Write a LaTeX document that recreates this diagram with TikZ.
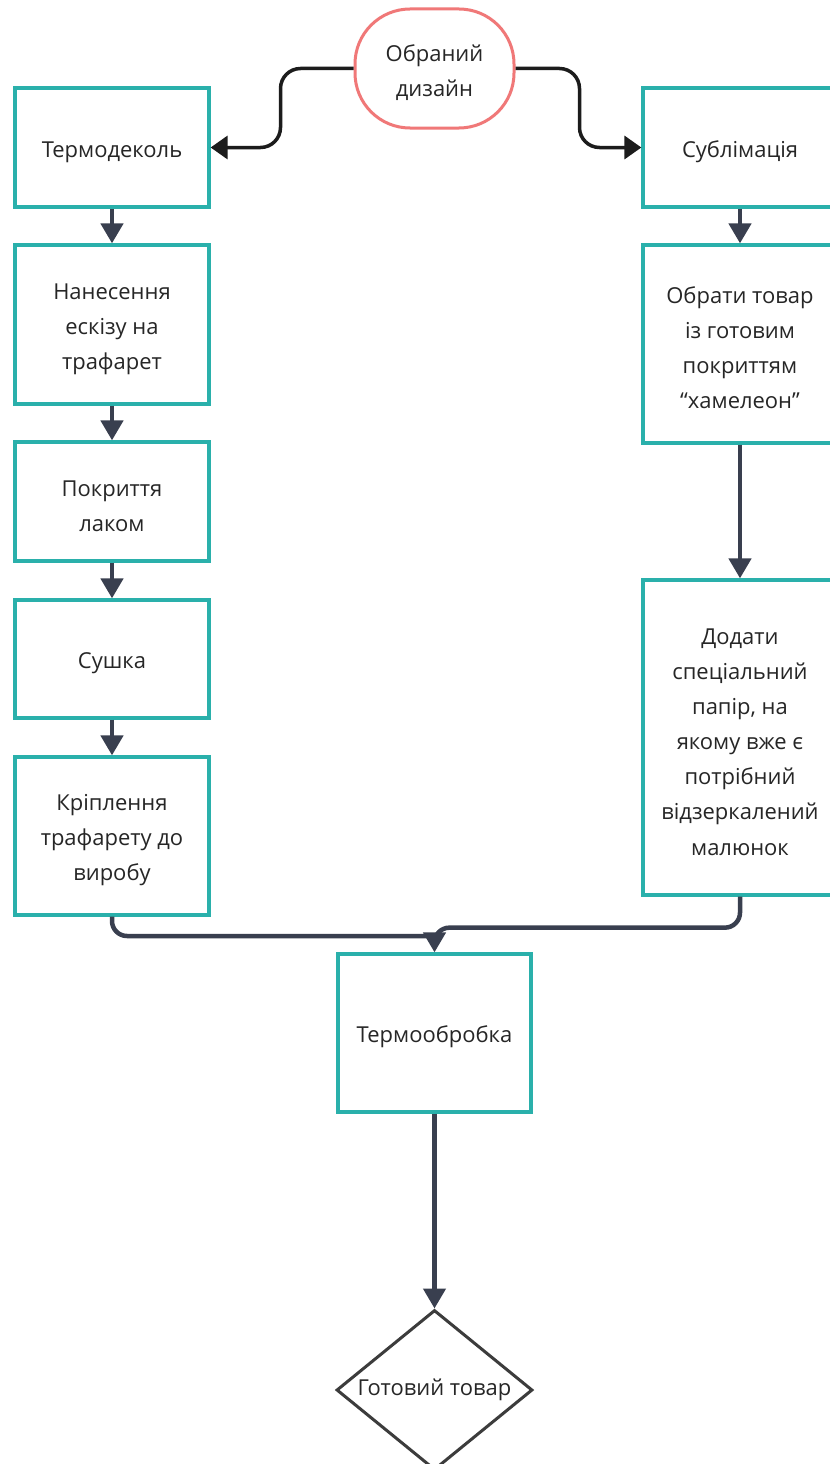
\documentclass[tikz,border=0pt]{standalone}
\usepackage{fontspec}
\setmainfont{Open Sans}
\usetikzlibrary{arrows.meta, shapes.geometric}
\definecolor{tealline}{HTML}{2AB0AB}
\definecolor{salmon}{HTML}{F07878}
\definecolor{slate}{HTML}{393F4F}
\definecolor{inkblk}{HTML}{1C1C1C}
\definecolor{txtgray}{HTML}{262626}
\definecolor{dmdgray}{HTML}{3C3C3C}
\newcommand{\tstrut}{\rule{0pt}{14pt}}

\begin{document}
\begin{tikzpicture}[
  x=0.2mm, y=-0.2mm,
  procbox/.style 2 args={
    draw=tealline, line width=0.65mm, fill=white,
    minimum width=#1, minimum height=#2, inner sep=2pt,
    font=\fontsize{12.5}{20}\selectfont, text=txtgray, align=center
  },
  startbox/.style={
    draw=salmon, line width=0.6mm, fill=white, rounded corners=11mm,
    minimum width=31.8mm, minimum height=23.8mm,
    font=\fontsize{12.5}{20}\selectfont, text=txtgray, align=center
  },
  endbox/.style={
    diamond, draw=dmdgray, line width=0.6mm, fill=white,
    minimum width=39.2mm, minimum height=32mm, inner sep=0pt,
    shape aspect=1.225,
    font=\fontsize{12.5}{20}\selectfont, text=txtgray
  },
  arr/.style={-{Triangle[length=4mm, width=4.4mm]}, line width=0.9mm, slate},
  mergeline/.style={line width=0.9mm, slate, rounded corners=3mm},
  split/.style={-{Triangle[length=3.4mm, width=4.6mm]}, line width=0.7mm, inkblk,
    rounded corners=4mm},
]

% Page
\useasboundingbox (0,0) rectangle (830,1464);
\fill[white] (0,0) rectangle (830,1464);

% ---- Start ----
\node[startbox] (design) at (434.5,68.5) {\tstrut Обраний\\дизайн};

% ---- Left branch ----
\node[procbox={38.8mm}{23.8mm}] (termodekol) at (112,147.5) {\tstrut Термодеколь};
\node[procbox={38.8mm}{31.8mm}] (nanesennya) at (112,324.5)
  {\tstrut Нанесення\\ескізу на\\трафарет};
\node[procbox={38.8mm}{23.8mm}] (pokryttya) at (112,501.5)
  {\tstrut Покриття\\лаком};
\node[procbox={38.8mm}{23.6mm}] (sushka) at (112,659) {\tstrut Сушка};
\node[procbox={38.8mm}{31.6mm}] (kriplennya) at (112,836)
  {\tstrut Кріплення\\трафарету до\\виробу};

% ---- Right branch ----
\node[procbox={38.8mm}{23.8mm}] (sublimatsiya) at (740,147.5) {\tstrut Сублімація};
\node[procbox={38.8mm}{39.6mm}] (obraty) at (740,344)
  {\tstrut Обрати товар\\із готовим\\покриттям\\“хамелеон”};
\node[procbox={38.8mm}{63mm}] (dodaty) at (740,737.5)
  {\tstrut Додати\\спеціальний\\папір, на\\якому вже є\\потрібний\\відзеркалений\\малюнок};

% ---- Merge and finish ----
\node[procbox={38.6mm}{31.6mm}] (termoobrobka) at (434.5,1033) {\tstrut Термообробка};
\node[endbox] (gotovyi) at (434.5,1390) {Готовий товар};
\coordinate (merge) at (434.5,936);

% ---- Arrows ----
\draw[split] (design.west) -- ++(-73,0) |- (termodekol.east);
\draw[split] (design.east) -- ++(64,0) |- (sublimatsiya.west);

\draw[arr] (termodekol) -- (nanesennya);
\draw[arr] (nanesennya) -- (pokryttya);
\draw[arr] (pokryttya) -- (sushka);
\draw[arr] (sushka) -- (kriplennya);

\draw[arr] (sublimatsiya) -- (obraty);
\draw[arr] (obraty) -- (dodaty);

\draw[mergeline] (kriplennya.south) |- (merge);
\draw[mergeline] (dodaty.south) -- ++(0,31) -| (merge);
\draw[arr] (merge) -- (termoobrobka.north);

\draw[arr] (termoobrobka) -- (gotovyi);

\end{tikzpicture}
\end{document}
